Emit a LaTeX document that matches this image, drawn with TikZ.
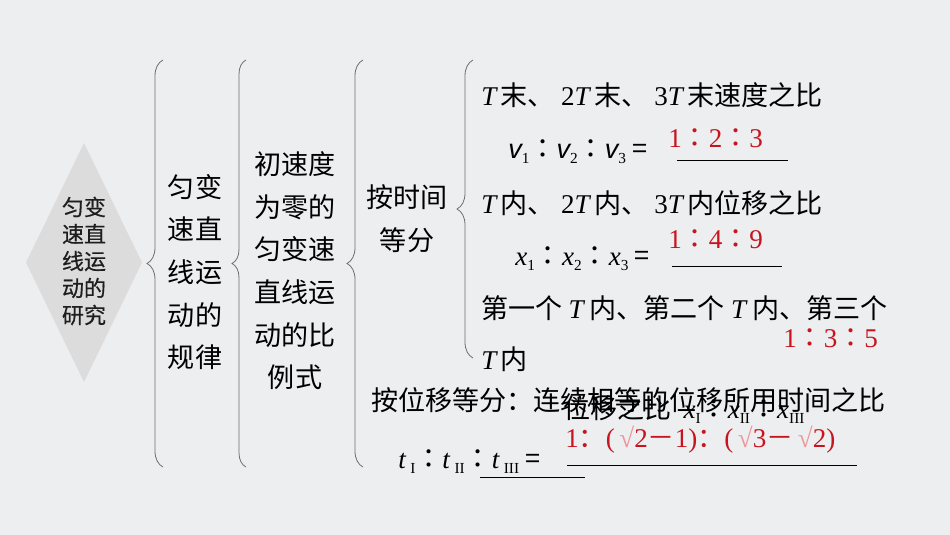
\documentclass[tikz,border=0pt]{standalone}
\usepackage{fontspec}
\setmainfont{Noto Sans CJK SC}
\newfontfamily\tc{Noto Sans CJK TC}
\newfontfamily\dia[FakeBold=0.5]{Noto Sans CJK SC}
\newfontfamily\lat{Liberation Serif}
\newfontfamily\las{Liberation Sans}
\usetikzlibrary{decorations.pathreplacing}
\definecolor{bgc}{RGB}{237,238,240}
\definecolor{diagray}{RGB}{220,220,221}
\definecolor{diatext}{RGB}{30,30,30}
\definecolor{bracegray}{RGB}{110,110,110}
\definecolor{ansred}{RGB}{200,20,30}
\definecolor{radpink}{RGB}{235,150,155}
\newcommand{\vi}[1]{{\lat\itshape #1}}
\newcommand{\vs}[1]{{\las\itshape #1}}
\newcommand{\rn}[1]{{\lat #1}}
\newcommand{\sbs}[1]{\raisebox{-0.22em}{\lat\fontsize{11.5}{11.5}\selectfont #1}}
\newcommand{\cln}{{\tc ：}}
\newcommand{\rad}{{\color{radpink}\lat √}}

\begin{document}
\begin{tikzpicture}[x=0.75pt,y=-0.75pt,
    txt/.style={inner sep=0pt,font=\fontsize{20.3}{32}\selectfont},
    col/.style={txt,align=center},
    row/.style={txt,anchor=base west},
    ans/.style={row,text=ansred},
    blank/.style={line width=0.6pt},
    brc/.style={draw=bracegray,line width=0.6pt,decorate,decoration={brace,amplitude=#1}}]
            \fill[bgc] (0,0) rectangle (950,535);
            \useasboundingbox (0,0) rectangle (950,535);

            \fill[diagray] (26,262.5)--(84,143)--(142,262.5)--(84,382)--cycle;
            \node[inner sep=0pt,align=center,text=diatext,font=\fontsize{16.5}{20.25}\dia] (topic) at (84,261) {匀变\\速直\\线运\\动的\\研究};

            \coordinate (b1-s) at (163,467);
            \coordinate (b1-e) at (163,60);
            \coordinate (b2-s) at (246,467);
            \coordinate (b2-e) at (246,60);
            \coordinate (b3-s) at (363,467);
            \coordinate (b3-e) at (363,60);
            \coordinate (b4-s) at (473,358);
            \coordinate (b4-e) at (473,60);
            \draw[brc=12pt] (b1-s)--(b1-e);
            \draw[brc=10.5pt] (b2-s)--(b2-e);
            \draw[brc=12pt] (b3-s)--(b3-e);
            \draw[brc=12pt] (b4-s)--(b4-e);

            \node[col] (law) at (195,272) {匀变\\速直\\线运\\动的\\规律};
            \node[col] (ratio) at (295,271) {初速度\\为零的\\匀变速\\直线运\\动的比\\例式};
            \node[col] (bytime) at (407,218.5) {按时间\\等分};

            \node[row] (vel) at (481,106) {\vi{T}\,末、 \rn{2}\vi{T}\,末、 \rn{3}\vi{T}\,末速度之比};
            \node[row] (vq) at (508,158) {\vs{v}\sbs{1}\cln\vs{v}\sbs{2}\cln\vs{v}\sbs{3} =};
            \node[ans] (va) at (668,147) {\rn{1}\cln\rn{2}\cln\rn{3}};
            \coordinate (v-l) at (677,160);
            \coordinate (v-r) at (788,160);
            \draw[blank] (v-l)--(v-r);

            \node[row] (disp) at (481,213) {\vi{T}\,内、 \rn{2}\vi{T}\,内、 \rn{3}\vi{T}\,内位移之比};
            \node[row] (xq) at (515,265) {\vi{x}\sbs{1}\cln\vi{x}\sbs{2}\cln\vi{x}\sbs{3} =};
            \node[ans] (xa) at (668,248) {\rn{1}\cln\rn{4}\cln\rn{9}};
            \coordinate (x-l) at (672,266);
            \coordinate (x-r) at (782,266);
            \draw[blank] (x-l)--(x-r);

            \node[row] (each) at (481,318) {第一个 \vi{T} 内、第二个 \vi{T} 内、第三个};
            \node[row] (each2) at (481,369) {\vi{T}\,内};
            \node[ans] (ea) at (783,347) {\rn{1}\cln\rn{3}\cln\rn{5}};

            \node[row] (bydisp) at (371,410) {按位移等分：连续相等的位移所用时间之比};
            \node[row] (ghost) at (563,418) {位移之比 \ \vi{x}\sbs{I}\cln\vi{x}\sbs{II}\cln\vi{x}\sbs{III}};
            \node[ans] (ta) at (565,447) {\rn{1}：\rn{(}\,\rad\rn{2}－\rn{1)}：\rn{(}\,\rad\rn{3}－\,\rad\rn{2)}};
            \node[row] (tq) at (398,468) {\vi{t}\,\sbs{I}\cln\vi{t}\,\sbs{II}\cln\vi{t}\,\sbs{III} =};
            \coordinate (t-l) at (567,465);
            \coordinate (t-r) at (857,465);
            \draw[blank] (t-l)--(t-r);
            \coordinate (s-l) at (480,477);
            \coordinate (s-r) at (585,477);
            \draw[blank] (s-l)--(s-r);
\end{tikzpicture}
\end{document}
